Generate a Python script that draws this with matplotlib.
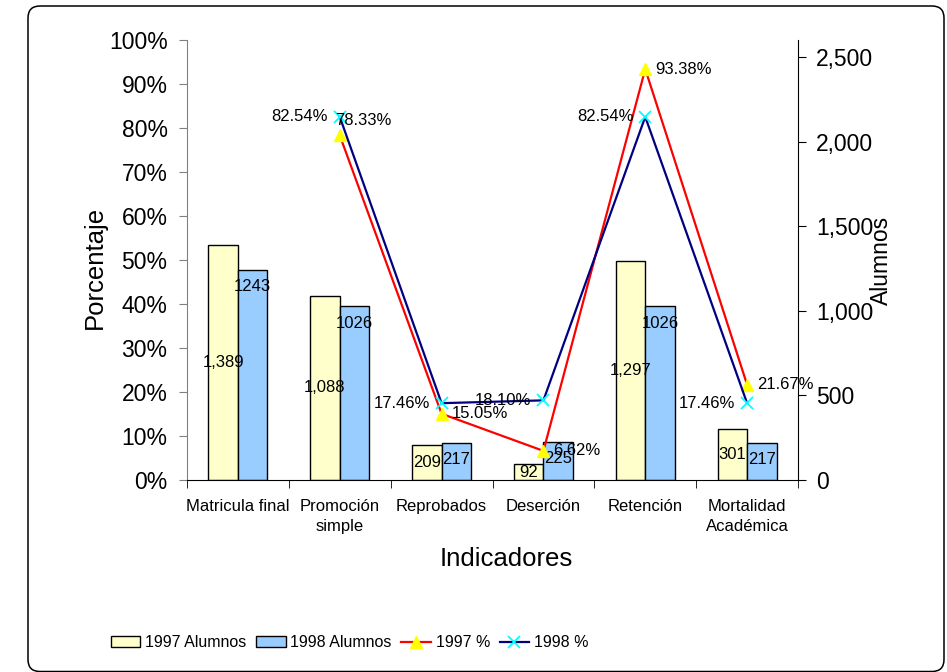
import numpy as np
import matplotlib
matplotlib.use("Agg")
import matplotlib.pyplot as plt
from matplotlib.patches import FancyBboxPatch
from matplotlib.ticker import FuncFormatter, MultipleLocator

plt.rcParams['font.family'] = ['Liberation Sans', 'DejaVu Sans']

# Data
categorias = ["Matricula final", "Promoción\nsimple", "Reprobados",
              "Deserción", "Retención", "Mortalidad\nAcadémica"]
alumnos_1997 = [1389, 1088, 209, 92, 1297, 301]
alumnos_1998 = [1243, 1026, 217, 225, 1026, 217]
pct_1997 = [np.nan, 78.33, 15.05, 6.62, 93.38, 21.67]
pct_1998 = [np.nan, 82.54, 17.46, 18.10, 82.54, 17.46]

# label offsets (points) for the 1997 % labels; one was moved by hand in the original
off_1997 = [(7, 0), (-3, 11), (7, 0), (7, 0), (7, 0), (7, 0)]

x = np.arange(len(categorias))
w = 0.29

fig = plt.figure(figsize=(9.47, 6.72), dpi=100)
ax = fig.add_axes([0.19747, 0.28571, 0.64519, 0.65476])
ax2 = ax.twinx()

# bars go on the right (Alumnos) axis, lines on the left (%) axis, lines on top
ax.set_zorder(ax2.get_zorder() + 1)
ax.patch.set_visible(False)

ax2.bar(x - w / 2, alumnos_1997, w, color="#FFFFCC", edgecolor="black", linewidth=1,
        label="1997 Alumnos")
ax2.bar(x + w / 2, alumnos_1998, w, color="#99CCFF", edgecolor="black", linewidth=1,
        label="1998 Alumnos")
for xi, v in zip(x, alumnos_1997):
    ax2.text(xi - w / 2, v / 2, f"{v:,}", ha="center", va="center", fontsize=12)
for xi, v in zip(x, alumnos_1998):
    ax2.annotate(f"{v}", (xi + w / 2, v), xytext=(0, -12), textcoords="offset points",
                 ha="center", va="center", fontsize=12)

ax.plot(x, pct_1997, color="red", lw=1.6, marker="^", ms=9, mfc="yellow", mec="yellow",
        label="1997 %")
ax.plot(x, pct_1998, color="#000080", lw=1.6, marker="x", ms=9, mec="#00FFFF", mew=1.3,
        label="1998 %")
for xi, v, off in zip(x, pct_1997, off_1997):
    if not np.isnan(v):
        ax.annotate(f"{v:.2f}%", (xi, v), xytext=off, textcoords="offset points",
                    ha="left", va="center", fontsize=12)
for xi, v in zip(x, pct_1998):
    if not np.isnan(v):
        ax.annotate(f"{v:.2f}%", (xi, v), xytext=(-8.5, 0), textcoords="offset points",
                    ha="right", va="center", fontsize=12)

# axes
ax.set_xlim(-0.5, len(categorias) - 0.5)
ax.set_ylim(0, 100)
ax2.set_ylim(0, 2600)
ax.yaxis.set_major_locator(MultipleLocator(10))
ax.yaxis.set_major_formatter(FuncFormatter(lambda v, p: f"{v:.0f}%"))
ax2.set_yticks([0, 500, 1000, 1500, 2000, 2500])
ax2.yaxis.set_major_formatter(FuncFormatter(lambda v, p: f"{v:,.0f}"))

ax.set_xticks(x)
ax.set_xticklabels(categorias, fontsize=12, linespacing=1.4)
ax.set_xticks(np.arange(len(categorias) + 1) - 0.5, minor=True)
ax.tick_params(axis="x", which="major", length=0, pad=14)
ax.tick_params(axis="x", which="minor", length=6, direction="out", color="black")
ax.tick_params(axis="y", labelsize=16.5, length=6, direction="out", color="#808080", pad=8)
ax2.tick_params(axis="y", labelsize=16.5, length=6, direction="out", color="black", pad=7)

for s in ["top", "right"]:
    ax.spines[s].set_visible(False)
ax.spines["left"].set_color("#808080")
ax2.spines["top"].set_visible(False)
ax2.spines["left"].set_visible(False)
ax2.spines["bottom"].set_visible(False)

ax.set_ylabel("Porcentaje", fontsize=18.5)
ax.yaxis.set_label_coords(-0.1506, 0.482)
ax.yaxis.label.set_va("center")
ax.set_xlabel("Indicadores", fontsize=18.5)
ax.xaxis.set_label_coords(0.522, -0.18)
ax.xaxis.label.set_va("center")
ax2.set_ylabel("Alumnos", fontsize=16.5, rotation=90)
ax2.yaxis.set_label_coords(1.137, 0.5)
ax2.yaxis.label.set_va("center")

h1, l1 = ax2.get_legend_handles_labels()
h2, l2 = ax.get_legend_handles_labels()
fig.legend(h1 + h2, l1 + l2, loc="center left", bbox_to_anchor=(0.117, 0.0432),
           ncol=4, frameon=False, fontsize=11.5, borderpad=0, borderaxespad=0,
           handlelength=1.85, handletextpad=0.3, columnspacing=0.6)

# rounded outer border
border = FancyBboxPatch((0.28, 0.005), 9.16, 6.655, boxstyle="round,pad=0,rounding_size=0.12",
                        transform=fig.dpi_scale_trans, fill=False, edgecolor="black", lw=1.1)
fig.patches.append(border)

fig.savefig("out.png", dpi=100)
